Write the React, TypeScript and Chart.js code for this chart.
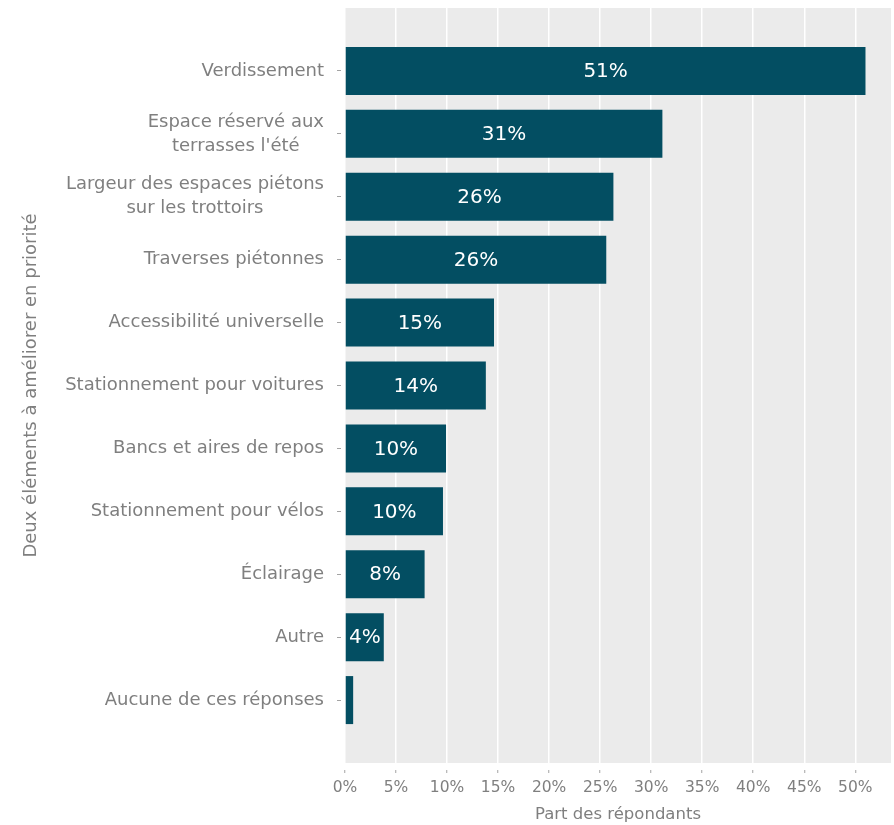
import React, { useEffect, useRef } from 'react';
import { Chart, registerables } from 'chart.js';

Chart.register(...registerables);

// ---- Data ----
const categories: (string | string[])[] = [
  'Verdissement',
  ['Espace réservé aux', "terrasses l'été"],
  ['Largeur des espaces piétons', 'sur les trottoirs'],
  'Traverses piétonnes',
  'Accessibilité universelle',
  'Stationnement pour voitures',
  'Bancs et aires de repos',
  'Stationnement pour vélos',
  'Éclairage',
  'Autre',
  'Aucune de ces réponses',
];
const shares = [51.0, 31.1, 26.3, 25.6, 14.6, 13.8, 9.9, 9.6, 7.8, 3.8, 0.8];
const shareLabels = ['51%', '31%', '26%', '26%', '15%', '14%', '10%', '10%', '8%', '4%', ''];
const xTickValues = [0, 5, 10, 15, 20, 25, 30, 35, 40, 45, 50];
const xTitle = 'Part des répondants';
const yTitle = 'Deux éléments à améliorer en priorité';

// ---- Styles ----
const FONT = '"DejaVu Sans", sans-serif';
const TEXT = '#7f7f7f';
const BAR = '#034e62';
const PANEL = '#ebebeb';
const TICK = '#a3a3a3';

const panelBg = {
  id: 'panelBg',
  beforeDraw(chart: any) {
    const { ctx, chartArea: a } = chart;
    ctx.save();
    ctx.fillStyle = PANEL;
    ctx.fillRect(a.left, a.top, a.right - a.left, a.bottom - a.top);
    ctx.restore();
  },
};

const yLabels = {
  id: 'yLabels',
  afterDraw(chart: any) {
    const { ctx } = chart;
    const ys = chart.scales.y;
    const right = chart.chartArea.left - 21;
    ctx.save();
    ctx.font = `18px ${FONT}`;
    ctx.fillStyle = TEXT;
    ctx.textBaseline = 'middle';
    ctx.textAlign = 'center';
    const lh = 24;
    categories.forEach((c, i) => {
      const lines = Array.isArray(c) ? c : [c];
      const py = ys.getPixelForValue(i + 1);
      const w = Math.max(...lines.map((l) => ctx.measureText(l).width));
      const cx = right - w / 2;
      lines.forEach((l, j) => {
        ctx.fillText(l, cx, py + (j - (lines.length - 1) / 2) * lh);
      });
    });
    ctx.restore();
  },
};

const barLabels = {
  id: 'barLabels',
  afterDatasetsDraw(chart: any) {
    const { ctx } = chart;
    const meta = chart.getDatasetMeta(0);
    ctx.save();
    ctx.font = `20px ${FONT}`;
    ctx.fillStyle = '#ffffff';
    ctx.textBaseline = 'middle';
    ctx.textAlign = 'center';
    shareLabels.forEach((t, i) => {
      const el = meta.data[i + 1];
      if (!el || !t) return;
      const p = el.getProps(['x', 'y', 'base'], true);
      ctx.fillText(t, (p.x + p.base) / 2, p.y + 1);
    });
    ctx.restore();
  },
};

export default function App() {
  const ref = useRef<HTMLCanvasElement>(null);

  useEffect(() => {
    if (!ref.current) return;
    const labels = ['', ...categories.map((c) => (Array.isArray(c) ? c.join(' ') : c)), ''];
    const data = [null, ...shares, null];
    const chart = new Chart(ref.current, {
      type: 'bar',
      data: {
        labels,
        datasets: [
          {
            data,
            backgroundColor: BAR,
            borderWidth: 0,
            categoryPercentage: 1,
            barPercentage: 0.763,
          },
        ],
      },
      options: {
        indexAxis: 'y',
        animation: false,
        responsive: true,
        maintainAspectRatio: false,
        layout: { padding: { top: 8, right: 3, bottom: 0, left: 0 } },
        plugins: {
          legend: { display: false },
          tooltip: { enabled: false },
        },
        scales: {
          x: {
            type: 'linear',
            min: 0,
            max: 53.5,
            afterBuildTicks: (s: any) => {
              s.ticks = xTickValues.map((v) => ({ value: v }));
            },
            afterFit: (s: any) => {
              s.height = 62;
            },
            border: { display: false },
            grid: {
              color: '#ffffff',
              lineWidth: 1.5,
              drawTicks: true,
              tickLength: 10,
              tickColor: TICK,
              tickWidth: 1,
              tickBorderDash: [3, 7],
              tickBorderDashOffset: 3,
            } as any,
            ticks: {
              color: TEXT,
              font: { family: FONT, size: 15.5 },
              padding: 6,
              callback: (v: any) => `${v}%`,
            },
            title: {
              display: true,
              text: xTitle,
              color: TEXT,
              font: { family: FONT, size: 16.5 },
              padding: { top: 0, bottom: 0 },
            },
          },
          y: {
            type: 'category',
            offset: false,
            afterFit: (s: any) => {
              s.width = 345;
            },
            border: { display: false },
            grid: {
              offset: false,
              drawOnChartArea: false,
              drawTicks: true,
              tickLength: 8,
              tickWidth: 1,
              tickColor: (c: any) => (c.index === 0 || c.index === labels.length - 1 ? 'rgba(0,0,0,0)' : TICK),
              tickBorderDash: [4, 4],
            } as any,
            ticks: { display: false },
            title: {
              display: true,
              text: yTitle,
              color: TEXT,
              font: { family: FONT, size: 18 },
              padding: { top: 21, bottom: 0 },
            },
          },
        },
      },
      plugins: [panelBg, yLabels, barLabels],
    });
    return () => chart.destroy();
  }, []);

  return (
    <div style={{ position: 'absolute', left: 0, top: 0, width: 894, height: 825 }}>
      <canvas ref={ref} />
    </div>
  );
}
